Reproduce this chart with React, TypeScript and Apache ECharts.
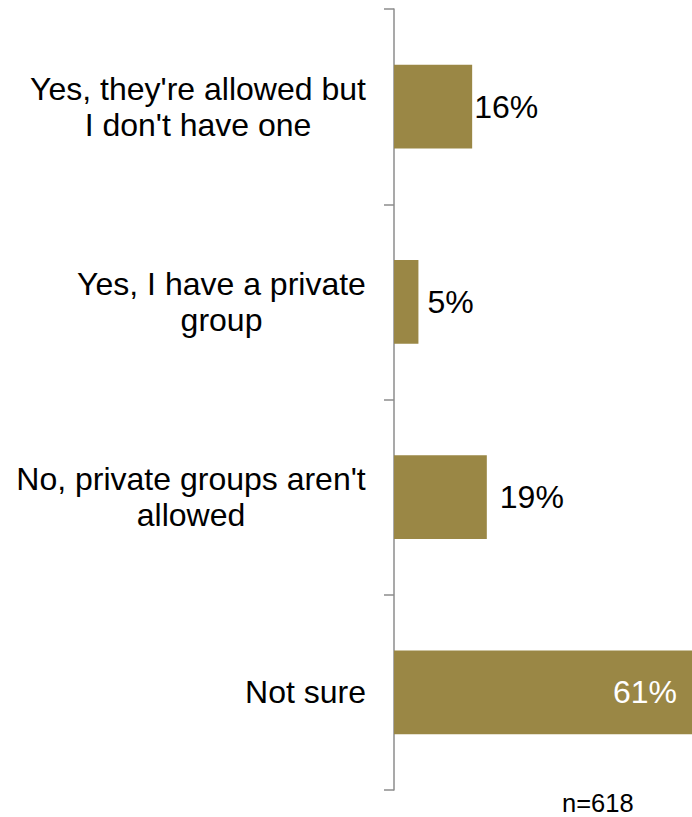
import React, { useEffect, useRef } from "react";
import * as echarts from "echarts";

const categories = [
  "Yes, they're allowed but\nI don't have one",
  "Yes, I have a private\ngroup",
  "No, private groups aren't\nallowed",
  "Not sure",
];
const values = [16, 5, 19, 61];
const sampleNote = "n=618";

const FONT = '"Liberation Sans", Arial, sans-serif';
const LABEL_SIZE = 32;

function measure(text: string): number {
  const c = document.createElement("canvas").getContext("2d");
  if (!c) return text.length * 15;
  c.font = `${LABEL_SIZE}px ${FONT}`;
  return c.measureText(text).width;
}

export default function App() {
  const ref = useRef<HTMLDivElement>(null);
  useEffect(() => {
    if (!ref.current) return;
    const chart = echarts.init(ref.current, undefined, { renderer: "svg" });
    const rich: Record<string, any> = {};
    categories.forEach((cat, i) => {
      const lines = cat.split("\n");
      const w = Math.ceil(Math.max(...lines.map(measure)));
      rich["c" + i] = {
        width: w,
        align: "center",
        fontSize: LABEL_SIZE,
        fontFamily: FONT,
        color: "#000",
        lineHeight: 36,
      };
    });
    const distances = [2, 9, 13, 15];
    chart.setOption({
      animation: false,
      grid: { left: 394, right: 0, top: 9, bottom: 27, containLabel: false },
      xAxis: { type: "value", min: 0, max: 61, show: false },
      yAxis: {
        type: "category",
        inverse: true,
        data: categories,
        axisLine: { show: true, lineStyle: { color: "#8c8c8c", width: 1.5 } },
        axisTick: { show: true, length: 10, lineStyle: { color: "#8c8c8c", width: 1.5 } },
        axisLabel: {
          margin: 28,
          formatter: (v: string, idx: number) =>
            v
              .split("\n")
              .map((l) => `{c${idx}|${l}}`)
              .join("\n"),
          rich,
        },
      },
      series: [
        {
          type: "bar",
          barCategoryGap: "57%",
          itemStyle: { color: "#9A8745" },
          data: values.map((v, i) => {
            const inside = i === values.length - 1;
            return {
              value: v,
              label: {
                show: true,
                position: inside ? "insideRight" : "right",
                distance: distances[i],
                formatter: "{c}%",
                color: inside ? "#fff" : "#000",
                fontSize: LABEL_SIZE,
                fontFamily: FONT,
              },
            };
          }),
        },
      ],
      graphic: [
        {
          type: "text",
          left: 562,
          top: 790,
          style: { text: sampleNote, fontSize: 25.5, fontFamily: FONT, fill: "#000" },
        },
      ],
    });
    return () => chart.dispose();
  }, []);
  return <div ref={ref} style={{ width: 692, height: 817, position: "absolute", left: 0, top: 0 }} />;
}
